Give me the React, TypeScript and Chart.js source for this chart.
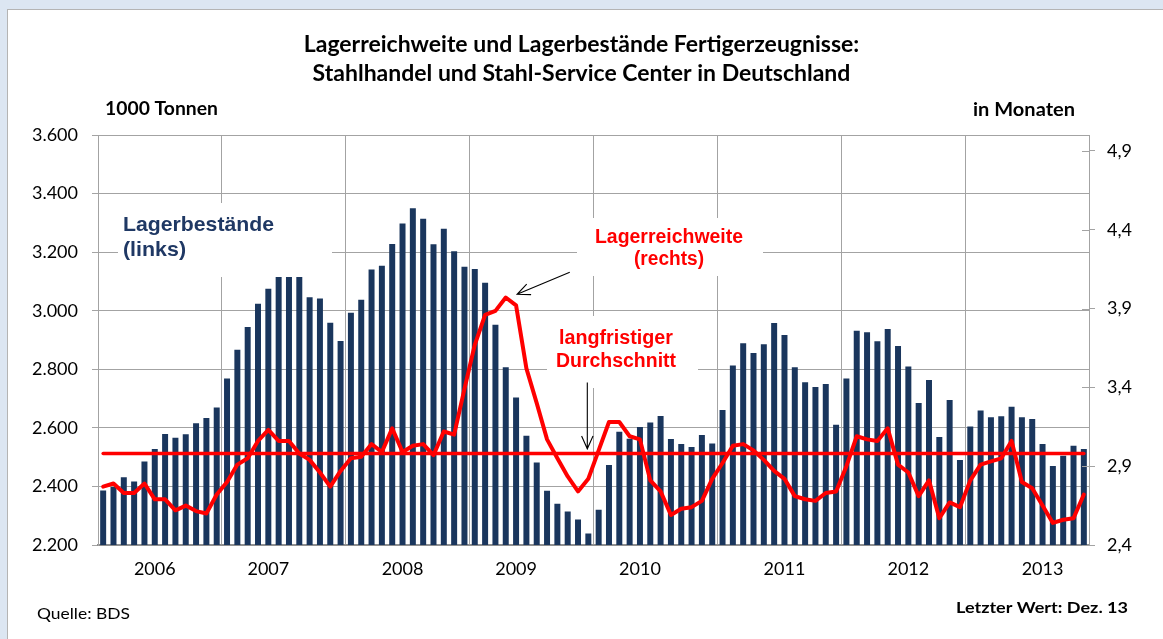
import { useEffect, useRef } from 'react';
import { Chart, registerables } from 'chart.js';

Chart.register(...registerables);

// ---------- data ----------
const years = ['2006', '2007', '2008', '2009', '2010', '2011', '2012', '2013'];
const months = ['Jan', 'Feb', 'Mär', 'Apr', 'Mai', 'Jun', 'Jul', 'Aug', 'Sep', 'Okt', 'Nov', 'Dez'];
const categories = years.flatMap((y) => months.map((m) => `${m} ${y.slice(2)}`));

// category index under which each year label is printed
const yearLabelIndex = [5, 16, 29, 40, 52, 66, 78, 91];

// Lagerbestände, 1000 t (left axis)
const stocks2006 = [2386, 2398, 2431, 2417, 2485, 2528, 2579, 2566, 2578, 2616, 2634, 2670];
const stocks2007 = [2769, 2867, 2945, 3024, 3075, 3115, 3115, 3115, 3046, 3042, 2959, 2897];
const stocks2008 = [2993, 3038, 3141, 3154, 3228, 3298, 3350, 3314, 3227, 3280, 3203, 3150];
const stocks2009 = [3143, 3096, 2952, 2807, 2704, 2573, 2482, 2385, 2341, 2314, 2287, 2239];
const stocks2010 = [2320, 2473, 2587, 2563, 2603, 2618, 2641, 2562, 2545, 2535, 2576, 2547];
const stocks2011 = [2661, 2813, 2889, 2856, 2886, 2958, 2917, 2807, 2756, 2740, 2750, 2611];
const stocks2012 = [2769, 2932, 2927, 2896, 2938, 2880, 2810, 2685, 2764, 2569, 2695, 2490];
const stocks2013 = [2605, 2659, 2636, 2640, 2672, 2636, 2630, 2545, 2470, 2505, 2539, 2528];

// Lagerreichweite, Monate (right axis)
const reach2006 = [2.77, 2.79, 2.73, 2.73, 2.79, 2.69, 2.69, 2.62, 2.65, 2.615, 2.6, 2.72];
const reach2007 = [2.8, 2.91, 2.95, 3.06, 3.13, 3.06, 3.06, 2.98, 2.94, 2.86, 2.77, 2.87];
const reach2008 = [2.95, 2.96, 3.04, 2.99, 3.14, 2.99, 3.03, 3.04, 2.97, 3.12, 3.1, 3.39];
const reach2009 = [3.67, 3.86, 3.885, 3.97, 3.92, 3.52, 3.3, 3.07, 2.95, 2.835, 2.74, 2.82];
const reach2010 = [3.0, 3.18, 3.18, 3.09, 3.07, 2.81, 2.74, 2.59, 2.63, 2.64, 2.68, 2.82];
const reach2011 = [2.92, 3.03, 3.04, 3.0, 2.94, 2.87, 2.82, 2.71, 2.69, 2.68, 2.73, 2.74];
const reach2012 = [2.9, 3.09, 3.07, 3.06, 3.14, 2.91, 2.86, 2.71, 2.81, 2.57, 2.67, 2.64];
const reach2013 = [2.81, 2.91, 2.93, 2.95, 3.06, 2.8, 2.76, 2.65, 2.54, 2.56, 2.57, 2.72];

const longTermAverage = 2.98;

const leftTicks = [2200, 2400, 2600, 2800, 3000, 3200, 3400, 3600];
const rightTicks = [2.4, 2.9, 3.4, 3.9, 4.4, 4.9];

const stocks = [
  ...stocks2006, ...stocks2007, ...stocks2008, ...stocks2009,
  ...stocks2010, ...stocks2011, ...stocks2012, ...stocks2013,
];
const reach = [
  ...reach2006, ...reach2007, ...reach2008, ...reach2009,
  ...reach2010, ...reach2011, ...reach2012, ...reach2013,
];

// ---------- helpers ----------
const GRID = '#a3a3a3';
const LATO = 'Lato, "Liberation Sans", sans-serif';
const ARIAL = '"Liberation Sans", Arial, sans-serif';

function fmtLeft(v: number): string {
  const t = Math.floor(v / 1000);
  const r = Math.round(v % 1000);
  return `${t}.${String(r).padStart(3, '0')}`;
}
function fmtRight(v: number): string {
  return Number(v).toFixed(1).replace('.', ',');
}

function fitText(
  ctx: CanvasRenderingContext2D,
  text: string,
  font: string,
  color: string,
  x: number,
  y: number,
  width: number,
  align: 'left' | 'center' | 'right'
) {
  ctx.save();
  ctx.font = font;
  ctx.fillStyle = color;
  ctx.textAlign = 'left';
  ctx.textBaseline = 'alphabetic';
  const w = ctx.measureText(text).width;
  const sx = width / w;
  const left = align === 'left' ? x : align === 'center' ? x - width / 2 : x - width;
  ctx.translate(left, y);
  ctx.scale(sx, 1);
  ctx.fillText(text, 0, 0);
  ctx.restore();
}

function arrow(ctx: CanvasRenderingContext2D, x1: number, y1: number, x2: number, y2: number) {
  const a = Math.atan2(y2 - y1, x2 - x1);
  const L = 14;
  const s = 0.42;
  ctx.save();
  ctx.strokeStyle = '#000';
  ctx.lineWidth = 1.1;
  ctx.beginPath();
  ctx.moveTo(x1, y1);
  ctx.lineTo(x2, y2);
  ctx.moveTo(x2 - L * Math.cos(a - s), y2 - L * Math.sin(a - s));
  ctx.lineTo(x2, y2);
  ctx.lineTo(x2 - L * Math.cos(a + s), y2 - L * Math.sin(a + s));
  ctx.stroke();
  ctx.restore();
}

const decorPlugin = {
  id: 'decor',
  beforeDatasetsDraw(chart: any) {
    const ctx: CanvasRenderingContext2D = chart.ctx;
    ctx.save();
    ctx.fillStyle = '#ffffff';
    ctx.fillRect(118, 203, 214, 74);
    ctx.fillRect(577, 218, 186, 58);
    ctx.fillRect(547, 316, 151, 72);
    ctx.restore();
  },
  afterDatasetsDraw(chart: any) {
    const ctx: CanvasRenderingContext2D = chart.ctx;
    const xs = chart.scales.x;
    const ys = chart.scales.y1;
    const area = chart.chartArea;

    // inner half of right-axis tick marks
    ctx.save();
    ctx.strokeStyle = GRID;
    ctx.lineWidth = 1;
    rightTicks.forEach((v) => {
      const y = Math.round(ys.getPixelForValue(v)) + 0.5;
      ctx.beginPath();
      ctx.moveTo(area.right - 7, y);
      ctx.lineTo(area.right, y);
      ctx.stroke();
    });
    ctx.restore();

    // annotation labels
    const blue = '#1f3864';
    const red = '#ff0000';
    fitText(ctx, 'Lagerbestände', `bold 21px ${ARIAL}`, blue, 123, 231, 151, 'left');
    fitText(ctx, '(links)', `bold 21px ${ARIAL}`, blue, 123, 256, 63, 'left');
    fitText(ctx, 'Lagerreichweite', `bold 19.5px ${ARIAL}`, red, 669, 243, 148, 'center');
    fitText(ctx, '(rechts)', `bold 19.5px ${ARIAL}`, red, 669, 265, 70, 'center');
    fitText(ctx, 'langfristiger', `bold 19.5px ${ARIAL}`, red, 616, 344, 114, 'center');
    fitText(ctx, 'Durchschnitt', `bold 19.5px ${ARIAL}`, red, 616, 367, 120, 'center');

    // arrows anchored in data space (category index, right-axis value)
    arrow(ctx, xs.getPixelForValue(45.2), ys.getPixelForValue(4.13), xs.getPixelForValue(40.1), ys.getPixelForValue(3.99));
    arrow(ctx, xs.getPixelForValue(46.9), ys.getPixelForValue(3.43), xs.getPixelForValue(46.9), ys.getPixelForValue(3.01));

    // axis unit captions & footer
    fitText(ctx, '1000 Tonnen', `bold 18px ${LATO}`, '#000', 105, 115, 113, 'left');
    fitText(ctx, 'in Monaten', `bold 18px ${LATO}`, '#000', 1075, 116, 102, 'right');
    fitText(ctx, 'Quelle: BDS', `16px ${LATO}`, '#000', 37, 619, 93, 'left');
    fitText(ctx, 'Letzter Wert: Dez. 13', `bold 16px ${LATO}`, '#000', 1128, 613, 172, 'right');
  },
};

export default function App() {
  const ref = useRef<HTMLCanvasElement | null>(null);

  useEffect(() => {
    if (!ref.current) return;
    const chart = new Chart(ref.current, {
      type: 'bar',
      data: {
        labels: categories,
        datasets: [
          {
            type: 'line',
            label: 'Lagerreichweite',
            data: reach,
            yAxisID: 'y1',
            borderColor: '#ff0000',
            borderWidth: 4,
            pointRadius: 0,
            tension: 0,
            borderJoinStyle: 'round',
            borderCapStyle: 'round',
            order: 1,
          },
          {
            type: 'line',
            label: 'langfristiger Durchschnitt',
            data: [
              { x: categories[0], y: longTermAverage },
              { x: categories[categories.length - 1], y: longTermAverage },
            ],
            yAxisID: 'y1',
            borderColor: '#ff0000',
            borderWidth: 3.5,
            pointRadius: 0,
            borderCapStyle: 'round',
            order: 2,
          },
          {
            type: 'bar',
            label: 'Lagerbestände',
            data: stocks,
            yAxisID: 'y',
            backgroundColor: '#1a365d',
            barPercentage: 0.58,
            categoryPercentage: 1,
            order: 3,
          },
        ] as any,
      },
      options: {
        animation: false,
        responsive: false,
        devicePixelRatio: 1,
        layout: { padding: 0 },
        plugins: {
          legend: { display: false },
          tooltip: { enabled: false },
          title: {
            display: true,
            text: [
              'Lagerreichweite und Lagerbestände Fertigerzeugnisse:',
              'Stahlhandel und Stahl-Service Center in Deutschland',
            ],
            color: '#000',
            font: { family: LATO, size: 23, weight: 'bold', lineHeight: 1.22 },
            padding: { top: 31, bottom: 48 },
          },
        },
        scales: {
          x: {
            type: 'category',
            afterFit: (s: any) => {
              s.height = 94;
            },
            grid: {
              offset: true,
              drawTicks: false,
              color: (c: any) => (c.index % 12 === 0 ? GRID : 'rgba(0,0,0,0)'),
              lineWidth: 1,
            },
            border: { display: true, color: '#8f8f8f', width: 2 },
            ticks: {
              autoSkip: false,
              maxRotation: 0,
              minRotation: 0,
              padding: 13,
              color: '#000',
              font: { family: LATO, size: 18 },
              callback: (_v: any, i: number) => {
                const k = yearLabelIndex.indexOf(i);
                return k >= 0 ? years[k] : '';
              },
            },
          },
          y: {
            position: 'left',
            min: 2200,
            max: 3600,
            afterFit: (s: any) => {
              s.width = 98;
            },
            afterBuildTicks: (s: any) => {
              s.ticks = leftTicks.map((v) => ({ value: v }));
            },
            grid: { color: GRID, lineWidth: 1, tickLength: 6 },
            border: { display: true, color: GRID, width: 1 },
            ticks: {
              padding: 14,
              color: '#000',
              font: { family: LATO, size: 18 },
              callback: (v: any) => fmtLeft(Number(v)),
            },
          },
          y1: {
            position: 'right',
            min: 2.4,
            max: 5.0,
            afterFit: (s: any) => {
              s.width = 74;
            },
            afterBuildTicks: (s: any) => {
              s.ticks = rightTicks.map((v) => ({ value: v }));
            },
            grid: { drawOnChartArea: false, color: GRID, tickLength: 6 },
            border: { display: true, color: GRID, width: 1 },
            ticks: {
              padding: 12,
              color: '#000',
              font: { family: LATO, size: 18 },
              callback: (v: any) => fmtRight(Number(v)),
            },
          },
        },
      } as any,
      plugins: [decorPlugin],
    });
    return () => chart.destroy();
  }, []);

  return (
    <div style={{ position: 'fixed', left: 0, top: 0, width: 1163, height: 639, background: '#dce6f2', overflow: 'hidden' }}>
      <div
        style={{
          position: 'absolute',
          left: 7,
          top: 9,
          width: 1200,
          height: 700,
          background: '#ffffff',
          border: '1px solid #b4b4b4',
        }}
      />
      <canvas ref={ref} width={1163} height={639} style={{ position: 'absolute', left: 0, top: 0 }} />
    </div>
  );
}
